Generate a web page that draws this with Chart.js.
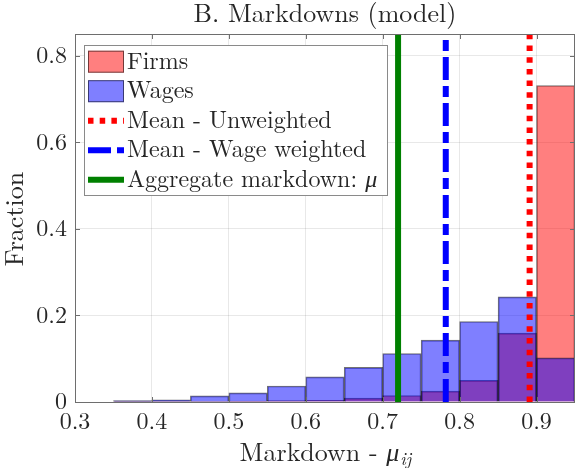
<!DOCTYPE html>
<html>
<head>
<meta charset="utf-8">
<script src="https://cdn.jsdelivr.net/npm/chart.js@4.4.1/dist/chart.umd.min.js"></script>
<style>
  html, body { margin: 0; padding: 0; background: #fff; }
  #wrap { width: 575px; height: 468px; position: relative; }
  .fontwarm { position: absolute; left: -9999px; top: 0; font-family: "Latin Modern Roman"; font-size: 24px; }
</style>
</head>
<body>
<span class="fontwarm">0.8 Markdown <i>&mu;ij</i></span>
<div id="wrap"><canvas id="markdown_chart" width="575" height="468"></canvas></div>
<script>

// histogram bins (width 0.05), centres
const bin_centers = [0.375, 0.425, 0.475, 0.525, 0.575, 0.625, 0.675, 0.725, 0.775, 0.825, 0.875, 0.925];
const firms_share = [0.001, 0.001, 0.001, 0.002, 0.003, 0.004, 0.009, 0.015, 0.025, 0.050, 0.159, 0.731];
const wages_share = [0.003, 0.005, 0.014, 0.021, 0.037, 0.058, 0.080, 0.112, 0.143, 0.186, 0.243, 0.102];

// vertical reference lines
const mean_unweighted = 0.891;
const mean_wage_weighted = 0.782;
const aggregate_markdown = 0.72;

const x_ticks = [0.3, 0.4, 0.5, 0.6, 0.7, 0.8, 0.9];
const y_ticks = [0, 0.2, 0.4, 0.6, 0.8];
const x_min = 0.3, x_max = 0.95;
const y_min = 0, y_max = 0.85;

const legend_labels = ['Firms', 'Wages', 'Mean - Unweighted', 'Mean - Wage weighted', 'Aggregate markdown: '];

const serif = '"Latin Modern Roman", "Liberation Serif", serif';
const red_fill = 'rgba(255, 0, 0, 0.5)';
const blue_fill = 'rgba(0, 0, 255, 0.5)';
const bar_edge = 'rgba(0, 0, 0, 0.55)';
const axis_col = '#6e6e6e';
const text_col = '#262626';

function fmt(v){
    return String(Math.round(v * 10) / 10)
}

function vline(v){
    return [{x: v, y: y_min}, {x: v, y: y_max}]
}

const decorations = {
    id: 'decorations',
    afterDraw(chart){
        const c = chart.ctx;
        const a = chart.chartArea;
        const xs = chart.scales.x;
        const ys = chart.scales.y;
        c.save();

        // box + inward ticks
        c.strokeStyle = axis_col;
        c.lineWidth = 1;
        c.setLineDash([]);
        c.beginPath();
        c.moveTo(a.left, a.top + 0.5); c.lineTo(a.right, a.top + 0.5);
        c.moveTo(a.right - 0.5, a.top); c.lineTo(a.right - 0.5, a.bottom);
        x_ticks.forEach(v => {
            const px = Math.round(xs.getPixelForValue(v)) + 0.5;
            c.moveTo(px, a.bottom); c.lineTo(px, a.bottom - 5);
            c.moveTo(px, a.top); c.lineTo(px, a.top + 5);
        });
        y_ticks.forEach(v => {
            const py = Math.round(ys.getPixelForValue(v)) + 0.5;
            c.moveTo(a.left, py); c.lineTo(a.left + 5, py);
            c.moveTo(a.right, py); c.lineTo(a.right - 5, py);
        });
        c.stroke();

        // title
        c.fillStyle = text_col;
        c.textAlign = 'center';
        c.textBaseline = 'alphabetic';
        c.font = '26px ' + serif;
        c.fillText('B. Markdowns (model)', (a.left + a.right) / 2, 21.5);

        // y label
        c.save();
        c.translate(15, 219);
        c.rotate(-Math.PI / 2);
        c.textBaseline = 'middle';
        c.font = '26px ' + serif;
        c.fillText('Fraction', 0, 0);
        c.restore();

        // x label with subscript
        const main = 'Markdown - ';
        c.font = '26px ' + serif;
        const w1 = c.measureText(main).width;
        c.font = 'italic 26px ' + serif;
        const w2 = c.measureText('\u03bc').width;
        c.font = 'italic 18px ' + serif;
        const w3 = c.measureText('ij').width;
        let sx = (a.left + a.right) / 2 - (w1 + w2 + w3) / 2;
        c.textAlign = 'left';
        c.font = '26px ' + serif;
        c.fillText(main, sx, 461);
        c.font = 'italic 26px ' + serif;
        c.fillText('\u03bc', sx + w1, 461);
        c.font = 'italic 18px ' + serif;
        c.fillText('ij', sx + w1 + w2 + 1, 465);

        // legend
        const lx = 84.5, ly = 45.5, lw = 303, lh = 150;
        c.fillStyle = '#fff';
        c.fillRect(lx, ly, lw, lh);
        c.strokeStyle = '#8a8a8a';
        c.lineWidth = 1;
        c.strokeRect(lx, ly, lw, lh);

        const rows = [61.7, 91.2, 120.7, 150.2, 179.7];
        const sw0 = 88, sw1 = 124;
        // patches
        [red_fill, blue_fill].forEach((col, i) => {
            c.fillStyle = col;
            c.fillRect(sw0, rows[i] - 11, sw1 - sw0, 22);
            c.strokeStyle = bar_edge;
            c.strokeRect(sw0 + 0.5, rows[i] - 10.5, sw1 - sw0 - 1, 21);
        });
        // line samples
        const samples = [
            {col: '#ff0000', dash: [5.5, 6.2]},
            {col: '#0000ff', dash: [23, 6, 11, 6]},
            {col: '#008000', dash: []}
        ];
        samples.forEach((s, i) => {
            c.strokeStyle = s.col;
            c.lineWidth = 6;
            c.lineCap = 'butt';
            c.setLineDash(s.dash);
            c.beginPath();
            c.moveTo(sw0, rows[i + 2]);
            c.lineTo(sw1, rows[i + 2]);
            c.stroke();
        });
        c.setLineDash([]);

        c.fillStyle = text_col;
        c.font = '24px ' + serif;
        c.textAlign = 'left';
        legend_labels.forEach((t, i) => {
            c.fillText(t, 127, rows[i] + 7);
        });
        const wl = c.measureText(legend_labels[4]).width;
        c.font = 'italic 24px ' + serif;
        c.fillText('\u03bc', 127 + wl, rows[4] + 7);

        c.restore();
    }
};

function draw_chart(){
new Chart(document.getElementById('markdown_chart').getContext('2d'), {
    type: 'bar',
    data: {
        datasets: [{
            type: 'line',
            label: 'Aggregate markdown',
            data: vline(aggregate_markdown),
            borderColor: '#008000',
            borderWidth: 6,
            pointRadius: 0,
            borderCapStyle: 'butt',
            fill: false,
            order: 1
        }, {
            type: 'line',
            label: 'Mean - Wage weighted',
            data: vline(mean_wage_weighted),
            borderColor: '#0000ff',
            borderWidth: 6,
            borderDash: [23, 6, 11, 6],
            pointRadius: 0,
            borderCapStyle: 'butt',
            fill: false,
            order: 2
        }, {
            type: 'line',
            label: 'Mean - Unweighted',
            data: vline(mean_unweighted),
            borderColor: '#ff0000',
            borderWidth: 6,
            borderDash: [5.5, 6.2],
            pointRadius: 0,
            borderCapStyle: 'butt',
            fill: false,
            order: 3
        }, {
            label: 'Wages',
            data: bin_centers.map((x, i) => ({x: x, y: wages_share[i]})),
            backgroundColor: blue_fill,
            borderColor: bar_edge,
            borderWidth: 1,
            barPercentage: 1,
            categoryPercentage: 1,
            grouped: false,
            order: 4
        }, {
            label: 'Firms',
            data: bin_centers.map((x, i) => ({x: x, y: firms_share[i]})),
            backgroundColor: red_fill,
            borderColor: bar_edge,
            borderWidth: 1,
            barPercentage: 1,
            categoryPercentage: 1,
            grouped: false,
            order: 5
        }]
    },
    options: {
        responsive: false,
        animation: false,
        layout: { padding: { top: 34, left: 0, right: 0, bottom: 0 } },
        plugins: {
            legend: { display: false },
            tooltip: { enabled: false },
            title: { display: false }
        },
        scales: {
            x: {
                type: 'linear',
                min: x_min,
                max: x_max,
                offset: false,
                grid: { color: 'rgba(0,0,0,0.09)', offset: false, drawTicks: false },
                border: { color: axis_col },
                afterBuildTicks: s => { s.ticks = x_ticks.map(v => ({value: v})); },
                afterFit: s => { s.height = 66; },
                ticks: {
                    font: { family: serif, size: 24 },
                    color: text_col,
                    padding: 5,
                    maxRotation: 0,
                    autoSkip: false,
                    callback: v => fmt(v)
                }
            },
            y: {
                min: y_min,
                max: y_max,
                grid: { color: 'rgba(0,0,0,0.09)', drawTicks: false },
                border: { color: axis_col },
                afterBuildTicks: s => { s.ticks = y_ticks.map(v => ({value: v})); },
                afterFit: s => { s.width = 75; },
                ticks: {
                    font: { family: serif, size: 24 },
                    color: text_col,
                    padding: 8,
                    autoSkip: false,
                    callback: v => fmt(v)
                }
            }
        }
    },
    plugins: [decorations]
});
}

Promise.all([
    document.fonts.load('24px "Latin Modern Roman"'),
    document.fonts.load('italic 24px "Latin Modern Roman"')
]).then(draw_chart, draw_chart);

</script>
</body>
</html>
